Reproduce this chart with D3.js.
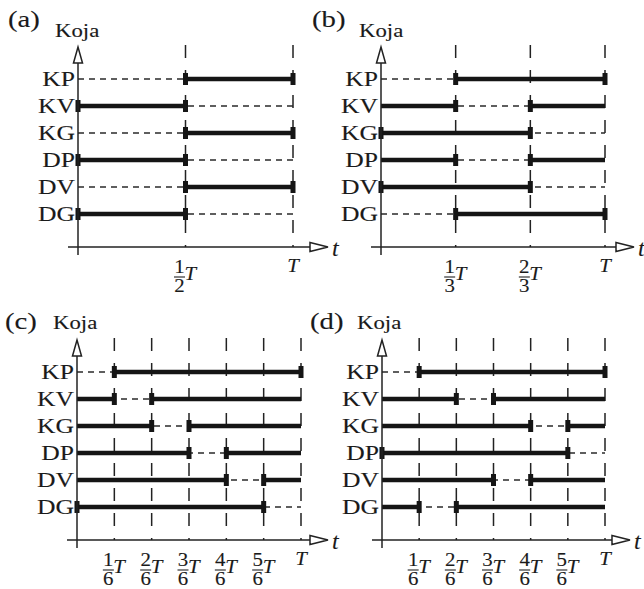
<!DOCTYPE html>
<meta charset="utf-8">
<style>
  body { margin: 0; background: #fff; }
  text { font-family: "Liberation Serif", "Times New Roman", Times, serif; fill: #1a1a1a; stroke: #1a1a1a; stroke-width: 0.12px; }
  .dash { fill: none; stroke: #2a2a2a; stroke-width: 1.4px; stroke-dasharray: 6,5; }
  .vdash { fill: none; stroke: #222; stroke-width: 1.5px; stroke-dasharray: 13,12; }
  .on { fill: none; stroke: #151515; stroke-width: 4.4px; }
  .axis { fill: none; stroke: #222; stroke-width: 1.5px; }
  .head { fill: #fff; stroke: #222; stroke-width: 1.5px; }
</style>
<body>
<script src="https://d3js.org/d3.v7.min.js"></script>
<script>

// signals (rows) of every panel
var rows = ["KP", "KV", "KG", "DP", "DV", "DG"];
var tags = ["(a)", "(b)", "(c)", "(d)"];
var yTitle = "Koja", xTitle = "t";

// number of equal parts of T in each panel
var parts = [2, 3, 6, 6];

// solid (thick) intervals per row, in parts of T
var onA = [[[1, 2]], [[0, 1]], [[1, 2]], [[0, 1]], [[1, 2]], [[0, 1]]];
var onB = [[[1, 3]], [[0, 1], [2, 3]], [[0, 2]], [[0, 1], [2, 3]], [[0, 2]], [[1, 3]]];
var onC = [[[1, 6]], [[0, 1], [2, 6]], [[0, 2], [3, 6]], [[0, 3], [4, 6]], [[0, 4], [5, 6]], [[0, 5]]];
var onD = [[[1, 6]], [[0, 2], [3, 6]], [[0, 4], [5, 6]], [[0, 5]], [[0, 3], [4, 6]], [[0, 1], [2, 6]]];

// switching marks per row, in parts of T
var marksA = [[1, 2], [0, 1], [1, 2], [0, 1], [1, 2], [0, 1]];
var marksB = [[1, 3], [1, 2], [0, 2], [1, 2], [0, 2], [1, 3]];
var marksC = [[1, 6], [1, 2], [2, 3], [3, 4], [4, 5], [0, 5]];
var marksD = [[1, 6], [2, 3], [4, 5], [0, 5], [3, 4], [1, 2]];

var onAll = [onA, onB, onC, onD];
var marksAll = [marksA, marksB, marksC, marksD];

// where each panel sits on the page
var layout = [
  {x0: 78,  xT: 293, axisY: 247, arrowX: 310, tagX: 8,   tagY: 27,  kojaX: 55,  kojaY: 37},
  {x0: 381, xT: 605, axisY: 247, arrowX: 616, tagX: 312, tagY: 27,  kojaX: 359, kojaY: 37},
  {x0: 77,  xT: 301, axisY: 540, arrowX: 310, tagX: 5,   tagY: 329, kojaX: 53,  kojaY: 329},
  {x0: 382, xT: 605, axisY: 540, arrowX: 612, tagX: 310, tagY: 329, kojaX: 357, kojaY: 329}
];

var svg = d3.select("body").append("svg")
    .attr("width", 644)
    .attr("height", 589);

// text slightly wider than the font, like the scanned figure
function label(g, x, y, s, size, anchor, italic, sx) {
  return g.append("text")
      .attr("transform", "translate(" + x + "," + y + ") scale(" + (sx || 1.2) + ",1)")
      .attr("text-anchor", anchor || "start")
      .style("font-size", size + "px")
      .style("font-style", italic ? "italic" : "normal")
      .text(s);
}

layout.forEach(function(p, k) {
  var n = parts[k];
  var g = svg.append("g");

  var x = d3.scaleLinear().domain([0, n]).range([p.x0, p.xT]);
  var y = d3.scalePoint().domain(rows).range([p.axisY - 168, p.axisY - 168 + 27 * 5]);
  var top = p.axisY - 202;

  // vertical dashed guides at every part of T
  g.selectAll(".vdash").data(d3.range(1, n + 1)).enter().append("path")
      .attr("class", "vdash")
      .attr("d", function(d) { return "M" + x(d) + "," + top + "V" + p.axisY; });

  // dashed base line of each row
  g.selectAll(".dash").data(rows).enter().append("path")
      .attr("class", "dash")
      .attr("d", function(d) { return "M" + x(0) + "," + y(d) + "H" + x(n); });

  // thick on-intervals
  rows.forEach(function(r, i) {
    g.selectAll(null).data(onAll[k][i]).enter().append("path")
        .attr("class", "on")
        .attr("d", function(d) { return "M" + x(d[0]) + "," + y(r) + "H" + x(d[1]); });
    g.selectAll(null).data(marksAll[k][i]).enter().append("rect")
        .attr("x", function(d) { return x(d) - 2.5; })
        .attr("y", y(r) - 6)
        .attr("width", 5)
        .attr("height", 12)
        .attr("fill", "#151515");
    label(g, p.x0 - 3, y(r) + 7, r, 21, "end", false, 1.22);
  });

  // axes with open arrow heads
  g.append("path").attr("class", "axis")
      .attr("d", "M" + p.x0 + "," + (p.axisY + 8) + "V" + (p.axisY - 184));
  g.append("path").attr("class", "head")
      .attr("d", "M" + (p.x0 - 4.5) + "," + (p.axisY - 184) + "L" + p.x0 + "," + (p.axisY - 200) +
                 "L" + (p.x0 + 4.5) + "," + (p.axisY - 184) + "Z");
  g.append("path").attr("class", "axis")
      .attr("d", "M" + (p.x0 - 10) + "," + p.axisY + "H" + p.arrowX);
  g.append("path").attr("class", "head")
      .attr("d", "M" + p.arrowX + "," + (p.axisY - 4.5) + "L" + (p.arrowX + 18) + "," + p.axisY +
                 "L" + p.arrowX + "," + (p.axisY + 4.5) + "Z");

  label(g, p.arrowX + 22, p.axisY + 9, xTitle, 24, "start", true, 1);
  label(g, p.tagX, p.tagY, tags[k], 23, "start", false, 1.25);
  label(g, p.kojaX, p.kojaY, yTitle, 19, "start", false, 1.2);

  // tick labels: fractions of T, and T itself
  var bar = p.axisY + 30;
  d3.range(1, n + 1).forEach(function(j) {
    var cx = x(j);
    if (j === n) {
      label(g, cx, p.axisY + 25, "T", 19, "middle", true, 1.1);
      return;
    }
    var fx = cx - 6;
    label(g, fx, bar - 4, String(j), 19, "middle", false, 1.1);
    label(g, fx, bar + 15, String(n), 19, "middle", false, 1.1);
    g.append("path").attr("class", "axis").style("stroke-width", "1.1px")
        .attr("d", "M" + (fx - 5.5) + "," + bar + "H" + (fx + 5.5));
    label(g, cx - 1, bar + 3, "T", 19, "start", true, 1.1);
  });
});

</script>
</body>
